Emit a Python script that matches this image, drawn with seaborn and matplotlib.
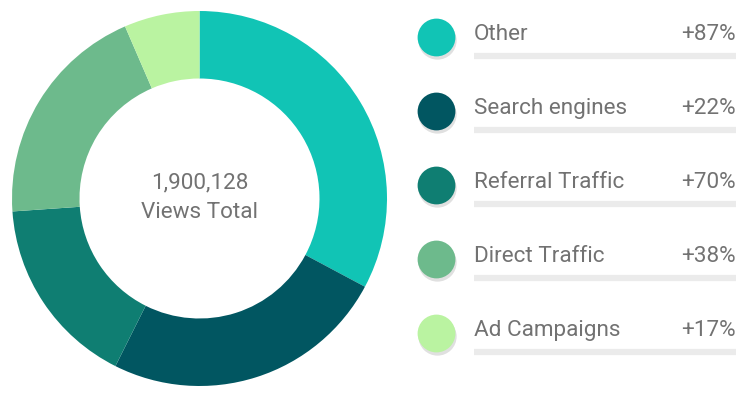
import matplotlib
matplotlib.use("Agg")
import matplotlib.pyplot as plt
import seaborn as sns
import pandas as pd

# data
sources = ["Other", "Search engines", "Referral Traffic", "Direct Traffic", "Ad Campaigns"]
shares = [32.8, 24.6, 16.5, 19.6, 6.5]
changes = ["+87%", "+22%", "+70%", "+38%", "+17%"]
colors = ["#11c4b5", "#015661", "#0f7e72", "#6dba8c", "#baf3a1"]
total_label = "1,900,128"
total_caption = "Views Total"

sns.set_theme(style="white")
plt.rcParams["font.family"] = ["Roboto", "DejaVu Sans"]
text_color = "#727272"

W, H = 751, 413
fig = plt.figure(figsize=(W / 100, H / 100), dpi=100)

# donut, placed in pixel terms
cx, cy, r = 199.5, 198.5, 187.5
ax = fig.add_axes([(cx - r) / W, (H - cy - r) / H, 2 * r / W, 2 * r / H])
ax.pie(shares, colors=colors, startangle=90, counterclock=False, radius=1,
       wedgeprops=dict(width=0.36, linewidth=0))
ax.set_xlim(-1, 1)
ax.set_ylim(-1, 1)
ax.set_aspect("equal")
ax.axis("off")
ax.text(0, 0.085, total_label, ha="center", va="center", fontsize=16.2, color=text_color)
ax.text(0, -0.075, total_caption, ha="center", va="center", fontsize=16.2, color=text_color)

# legend panel in pixel coords
lg = fig.add_axes([0, 0, 1, 1])
lg.set_xlim(0, W)
lg.set_ylim(H, 0)
lg.axis("off")

df = pd.DataFrame({"source": sources, "change": changes})
df["y"] = [37.5 + 74 * i for i in range(len(df))]
df["x"] = 436.5

# soft shadow under each dot
lg.scatter(df["x"], df["y"] + 2.0, s=760, color="#000000", alpha=0.12, linewidths=0, zorder=1)
sns.scatterplot(data=df, x="x", y="y", hue="source", palette=colors, s=740,
                linewidth=0, legend=False, ax=lg, zorder=2)

lg.hlines(df["y"] + 18.5, 474, 736, color="#ebebeb", linewidth=4.5, zorder=1)
for _, row in df.iterrows():
    lg.text(474, row["y"] - 3, row["source"], ha="left", va="center",
            fontsize=16.2, color=text_color)
    lg.text(736, row["y"] - 3, row["change"], ha="right", va="center",
            fontsize=16.2, color=text_color)

fig.savefig("out.png", dpi=100)
